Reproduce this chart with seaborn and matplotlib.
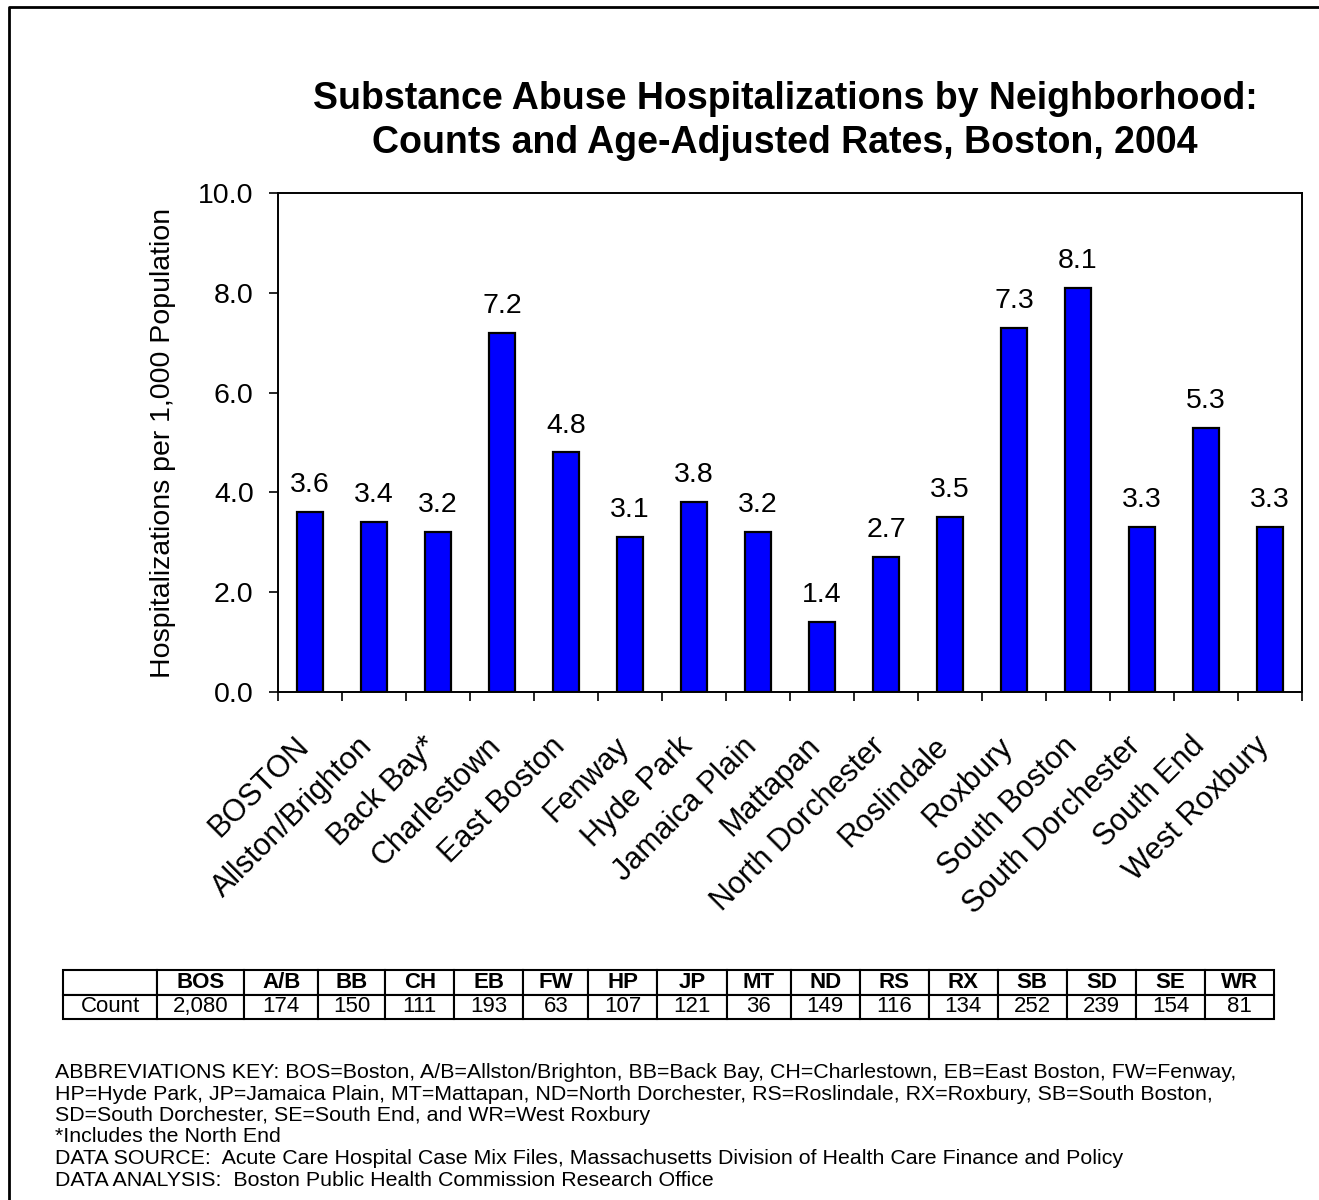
import matplotlib
matplotlib.use("Agg")
import matplotlib.pyplot as plt
from matplotlib.lines import Line2D
import matplotlib.transforms as mtransforms
import seaborn as sns
import pandas as pd
import numpy as np

# ---- data ----
neighborhoods = ["BOSTON", "Allston/Brighton", "Back Bay*", "Charlestown", "East Boston",
                 "Fenway", "Hyde Park", "Jamaica Plain", "Mattapan", "North Dorchester",
                 "Roslindale", "Roxbury", "South Boston", "South Dorchester", "South End",
                 "West Roxbury"]
rates = [3.6, 3.4, 3.2, 7.2, 4.8, 3.1, 3.8, 3.2, 1.4, 2.7, 3.5, 7.3, 8.1, 3.3, 5.3, 3.3]
abbrevs = ["BOS", "A/B", "BB", "CH", "EB", "FW", "HP", "JP", "MT", "ND", "RS", "RX",
           "SB", "SD", "SE", "WR"]
counts = ["2,080", "174", "150", "111", "193", "63", "107", "121", "36", "149", "116",
          "134", "252", "239", "154", "81"]
yticks = [0, 2, 4, 6, 8, 10]

title_lines = ["Substance Abuse Hospitalizations by Neighborhood:",
               "Counts and Age-Adjusted Rates, Boston, 2004"]
ylabel = "Hospitalizations per 1,000 Population"
footer = [
    "ABBREVIATIONS KEY: BOS=Boston, A/B=Allston/Brighton, BB=Back Bay, CH=Charlestown, EB=East Boston, FW=Fenway,",
    "HP=Hyde Park, JP=Jamaica Plain, MT=Mattapan, ND=North Dorchester, RS=Roslindale, RX=Roxbury, SB=South Boston,",
    "SD=South Dorchester, SE=South End, and WR=West Roxbury",
    "*Includes the North End",
    "DATA SOURCE:  Acute Care Hospital Case Mix Files, Massachusetts Division of Health Care Finance and Policy",
    "DATA ANALYSIS:  Boston Public Health Commission Research Office",
]

sns.set_theme(style="white")
plt.rcParams["font.family"] = ["Liberation Sans", "DejaVu Sans"]
for k in ["text.color", "axes.labelcolor", "xtick.color", "ytick.color", "axes.edgecolor"]:
    plt.rcParams[k] = "black"

W, H = 1319, 1200
fig = plt.figure(figsize=(W / 100, H / 100), dpi=100)
fig.patch.set_facecolor("white")


def fx(px):
    return px / W


def fy(py):
    return 1 - py / H


# outer frame (left and top edges visible)
fig.add_artist(Line2D([fx(9), fx(9), fx(1330)], [fy(1215), fy(7), fy(7)],
                      color="black", lw=2.0, transform=fig.transFigure))

ax = fig.add_axes([fx(278), fy(692), fx(1302) - fx(278), fy(193) - fy(692)])
df = pd.DataFrame({"n": neighborhoods, "r": rates})
sns.barplot(data=df, x="n", y="r", color="#0000FF", edgecolor="black",
            linewidth=1.6, width=0.41, saturation=1, ax=ax)
for p in ax.patches:
    p.set_facecolor("#0000FF")

ax.bar_label(ax.containers[0], fmt="%.1f", padding=10, fontsize=20.5)

ax.set_xlim(-0.5, len(neighborhoods) - 0.5)
ax.set_ylim(0, 10)
ax.set_yticks(yticks)
ax.set_yticklabels([f"{v:.1f}" for v in yticks], fontsize=20.5)
ax.set_ylabel(ylabel, fontsize=20.5, labelpad=16)
ax.set_xlabel("")
ax.set_xticks(np.arange(len(neighborhoods)))
ax.set_xticklabels(neighborhoods, rotation=45, ha="right", va="baseline",
                   rotation_mode="anchor", fontsize=22)
ax.set_xticks(np.arange(len(neighborhoods) + 1) - 0.5, minor=True)
ax.tick_params(axis="x", which="major", length=0, pad=40)
ax.tick_params(axis="x", which="minor", length=6.5, width=1.2, color="black",
               direction="out", bottom=True)
ax.tick_params(axis="y", which="major", length=6.5, width=1.2, color="black",
               direction="out", left=True, pad=11)
for s in ax.spines.values():
    s.set_visible(True)
    s.set_color("black")
    s.set_linewidth(1.4)
ax.set_facecolor("white")
ax.grid(False)

# title (centered over plot area)
fig.text(fx(785), fy(109), title_lines[0], ha="center", va="baseline", fontsize=27,
         fontweight="bold")
fig.text(fx(785), fy(153), title_lines[1], ha="center", va="baseline", fontsize=27,
         fontweight="bold")

# count table
tax = fig.add_axes([fx(63), fy(1019), fx(1274) - fx(63), fy(970) - fy(1019)])
tax.axis("off")
colw = [94, 87, 74, 67, 69, 69, 65, 69, 69, 64, 69, 69, 69, 69, 69, 69, 69]
colw = [c / sum(colw) for c in colw]
cell_text = [[""] + abbrevs, ["Count"] + counts]
tbl = tax.table(cellText=cell_text, colWidths=colw, cellLoc="center", bbox=[0, 0, 1, 1])
tbl.auto_set_font_size(False)
for (r, c), cell in tbl.get_celld().items():
    cell.set_linewidth(1.5)
    cell.set_edgecolor("black")
    cell.set_facecolor("white")
    t = cell.get_text()
    t.set_fontsize(16)
    t.set_color("black")
    if r == 0:
        t.set_fontweight("bold")

# footer notes
for i, line in enumerate(footer):
    fig.text(fx(55), fy(1078 + 21.5 * i), line, ha="left", va="baseline", fontsize=15.4)

fig.savefig("out.png", dpi=100, facecolor="white")
